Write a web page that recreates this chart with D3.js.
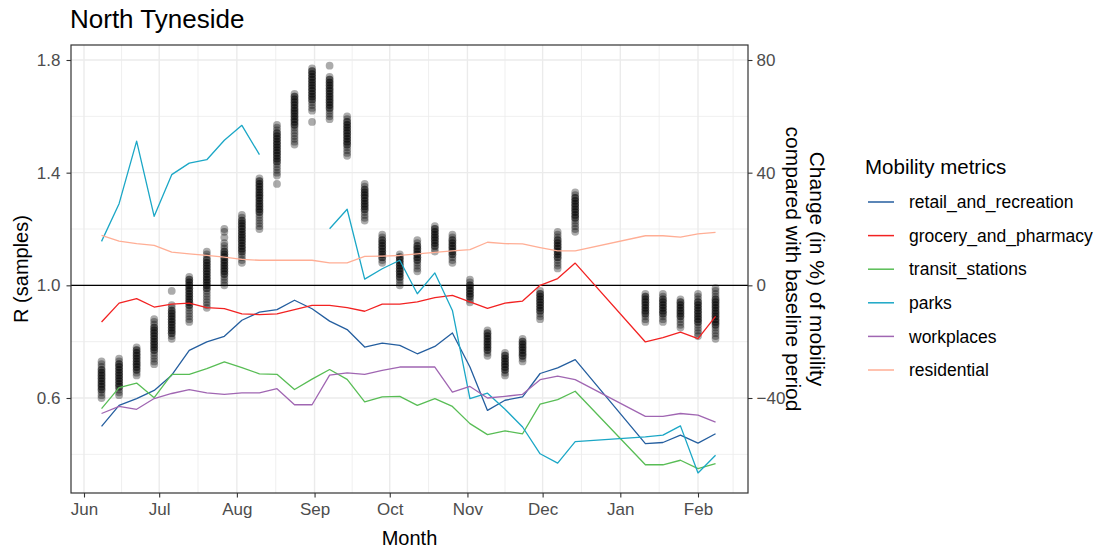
<!DOCTYPE html>
<html><head><meta charset="utf-8">
<script src="https://cdn.jsdelivr.net/npm/d3@7"></script>
<style>
body{margin:0;background:#fff;}
svg text{font-family:"Liberation Sans",Arial,sans-serif;}
</style></head><body>
<svg id="chart" width="1103" height="551"></svg>
<script>
// ---------- data ----------
const weekDates = ["2020-06-08","2020-06-15","2020-06-22","2020-06-29","2020-07-06","2020-07-13","2020-07-20","2020-07-27",
  "2020-08-03","2020-08-10","2020-08-17","2020-08-24","2020-08-31","2020-09-07","2020-09-14","2020-09-21","2020-09-28",
  "2020-10-05","2020-10-12","2020-10-19","2020-10-26","2020-11-02","2020-11-09","2020-11-16","2020-11-23","2020-11-30",
  "2020-12-07","2020-12-14","2021-01-11","2021-01-18","2021-01-25","2021-02-01","2021-02-08"];

const rSamples = [
  [0.73,0.72,0.71,0.70,0.70,0.69,0.69,0.68,0.68,0.67,0.67,0.66,0.66,0.65,0.65,0.64,0.64,0.63,0.63,0.62,0.61,0.60],
  [0.74,0.73,0.72,0.72,0.71,0.71,0.70,0.70,0.69,0.69,0.68,0.68,0.67,0.67,0.66,0.66,0.65,0.65,0.64,0.64,0.63,0.62,0.61],
  [0.78,0.77,0.77,0.76,0.76,0.75,0.75,0.74,0.74,0.73,0.73,0.72,0.72,0.71,0.71,0.70,0.70,0.69,0.68],
  [0.88,0.87,0.86,0.85,0.85,0.84,0.84,0.83,0.83,0.82,0.82,0.81,0.81,0.80,0.80,0.79,0.79,0.78,0.78,0.77,0.77,0.76,0.75,0.74,0.73,0.72],
  [0.98,0.93,0.92,0.91,0.91,0.90,0.90,0.89,0.89,0.88,0.88,0.87,0.87,0.86,0.86,0.85,0.85,0.84,0.84,0.83,0.83,0.82,0.81],
  [1.03,1.02,1.02,1.01,1.01,1.00,1.00,0.99,0.99,0.98,0.98,0.97,0.97,0.96,0.96,0.95,0.95,0.94,0.94,0.93,0.93,0.92,0.91,0.90,0.89,0.88,0.87],
  [1.12,1.11,1.10,1.09,1.09,1.08,1.08,1.07,1.07,1.06,1.06,1.05,1.05,1.04,1.04,1.03,1.03,1.02,1.02,1.01,1.01,1.00,1.00,0.99,0.99,0.98,0.97,0.96,0.95,0.94,0.93,0.92],
  [1.20,1.19,1.17,1.15,1.14,1.13,1.12,1.12,1.11,1.11,1.10,1.10,1.09,1.09,1.08,1.08,1.07,1.07,1.06,1.06,1.05,1.05,1.04,1.04,1.03,1.02,1.01,1.00],
  [1.25,1.24,1.23,1.23,1.22,1.22,1.21,1.21,1.20,1.20,1.19,1.19,1.18,1.18,1.17,1.17,1.16,1.16,1.15,1.15,1.14,1.14,1.13,1.13,1.12,1.12,1.11,1.10,1.09,1.08],
  [1.38,1.37,1.37,1.36,1.36,1.35,1.35,1.34,1.34,1.33,1.33,1.32,1.32,1.31,1.31,1.30,1.30,1.29,1.29,1.28,1.28,1.27,1.27,1.26,1.26,1.25,1.24,1.23,1.22,1.21,1.20],
  [1.57,1.56,1.55,1.54,1.54,1.53,1.53,1.52,1.52,1.51,1.51,1.50,1.50,1.49,1.49,1.48,1.48,1.47,1.47,1.46,1.46,1.45,1.45,1.44,1.44,1.43,1.42,1.41,1.40,1.39,1.36],
  [1.68,1.67,1.67,1.66,1.66,1.65,1.65,1.64,1.64,1.63,1.63,1.62,1.62,1.61,1.61,1.60,1.60,1.59,1.59,1.58,1.58,1.57,1.57,1.56,1.55,1.54,1.53,1.52,1.51,1.50],
  [1.77,1.76,1.76,1.75,1.75,1.74,1.74,1.73,1.73,1.72,1.72,1.71,1.71,1.70,1.70,1.69,1.69,1.68,1.68,1.67,1.67,1.66,1.66,1.65,1.64,1.63,1.62,1.58],
  [1.78,1.74,1.73,1.73,1.72,1.72,1.71,1.71,1.70,1.70,1.69,1.69,1.68,1.68,1.67,1.67,1.66,1.66,1.65,1.65,1.64,1.64,1.63,1.63,1.62,1.61,1.60,1.59],
  [1.60,1.59,1.58,1.58,1.57,1.57,1.56,1.56,1.55,1.55,1.54,1.54,1.53,1.53,1.52,1.52,1.51,1.51,1.50,1.50,1.49,1.48,1.47,1.46],
  [1.36,1.35,1.34,1.34,1.33,1.33,1.32,1.32,1.31,1.31,1.30,1.30,1.29,1.29,1.28,1.28,1.27,1.27,1.26,1.25,1.24,1.23],
  [1.18,1.17,1.16,1.16,1.15,1.15,1.14,1.14,1.13,1.13,1.12,1.12,1.11,1.11,1.10,1.10,1.09,1.08],
  [1.11,1.10,1.10,1.09,1.09,1.08,1.08,1.07,1.07,1.06,1.06,1.05,1.05,1.04,1.04,1.03,1.03,1.02,1.01,1.00],
  [1.16,1.15,1.14,1.14,1.13,1.13,1.12,1.12,1.11,1.11,1.10,1.10,1.09,1.09,1.08,1.07,1.06,1.05],
  [1.21,1.20,1.20,1.19,1.19,1.18,1.18,1.17,1.17,1.16,1.16,1.15,1.15,1.14,1.14,1.13,1.12],
  [1.18,1.17,1.16,1.16,1.15,1.15,1.14,1.14,1.13,1.13,1.12,1.12,1.11,1.11,1.10,1.09,1.08],
  [1.02,1.01,1.00,1.00,0.99,0.99,0.98,0.98,0.97,0.97,0.96,0.96,0.95,0.94],
  [0.84,0.83,0.83,0.82,0.82,0.81,0.81,0.80,0.80,0.79,0.79,0.78,0.78,0.77,0.77,0.76,0.75],
  [0.76,0.75,0.75,0.74,0.74,0.73,0.73,0.72,0.72,0.71,0.71,0.70,0.70,0.69,0.68],
  [0.81,0.80,0.80,0.79,0.79,0.78,0.78,0.77,0.77,0.76,0.76,0.75,0.75,0.74,0.73],
  [0.98,0.97,0.97,0.96,0.96,0.95,0.95,0.94,0.94,0.93,0.93,0.92,0.92,0.91,0.91,0.90,0.89,0.88],
  [1.19,1.18,1.17,1.16,1.16,1.15,1.15,1.14,1.14,1.13,1.13,1.12,1.12,1.11,1.11,1.10,1.10,1.09,1.08,1.07,1.06],
  [1.33,1.32,1.31,1.31,1.30,1.30,1.29,1.29,1.28,1.28,1.27,1.27,1.26,1.26,1.25,1.25,1.24,1.24,1.23,1.22,1.21,1.20,1.19],
  [0.97,0.96,0.96,0.95,0.95,0.94,0.94,0.93,0.93,0.92,0.92,0.91,0.91,0.90,0.90,0.89,0.88,0.87],
  [0.97,0.96,0.95,0.95,0.94,0.94,0.93,0.93,0.92,0.92,0.91,0.91,0.90,0.90,0.89,0.88,0.87],
  [0.95,0.94,0.94,0.93,0.93,0.92,0.92,0.91,0.91,0.90,0.90,0.89,0.89,0.88,0.87,0.86,0.85],
  [0.97,0.96,0.95,0.94,0.94,0.93,0.93,0.92,0.92,0.91,0.91,0.90,0.90,0.89,0.89,0.88,0.88,0.87,0.87,0.86,0.85,0.84,0.83,0.82],
  [0.99,0.98,0.97,0.96,0.95,0.95,0.94,0.94,0.93,0.93,0.92,0.92,0.91,0.91,0.90,0.90,0.89,0.89,0.88,0.88,0.87,0.87,0.86,0.86,0.85,0.84,0.83,0.82,0.81]
];

const retailAndRecreation = [-50.1,-42.6,-40.2,-37.3,-31.9,-23.1,-20.1,-18.1,-12.4,-9.5,-8.6,-5.3,-8.3,-12.7,-15.7,-21.9,-20.5,-21.3,-24.3,-21.7,-16.9,-29.0,-44.4,-40.8,-39.6,-31.3,-29.3,-26.4,-56.2,-55.8,-53.2,-56.0,-52.7];
const groceryAndPharmacy = [-13.0,-6.3,-4.7,-7.7,-6.7,-6.3,-7.9,-8.3,-10.1,-10.4,-10.1,-8.6,-7.1,-7.1,-7.9,-9.2,-6.7,-6.7,-5.9,-4.4,-3.6,-5.9,-8.2,-6.3,-5.6,0.0,2.4,7.9,-20.1,-18.6,-16.6,-18.9,-11.0];
const transitStations = [-43.8,-36.3,-34.7,-39.9,-31.6,-31.6,-29.6,-27.2,-29.2,-31.4,-31.6,-37.0,-33.3,-29.9,-33.4,-41.4,-39.6,-39.4,-42.6,-40.2,-43.0,-49.1,-53.0,-51.7,-52.7,-42.2,-40.6,-37.6,-63.7,-63.7,-62.1,-65.1,-63.3];
const parks = [15.6,29.0,51.2,24.5,39.3,43.4,44.6,51.5,56.8,46.4,null,null,null,20.1,27.0,2.2,5.9,8.9,-3.0,4.4,-8.9,-40.2,-38.3,-44.0,-50.3,-59.8,-63.1,-55.5,-53.8,-53.2,-49.9,-66.6,-60.3];
const workplaces = [-45.5,-43.0,-44.0,-40.2,-38.4,-37.0,-38.2,-38.7,-38.2,-38.2,-36.7,-42.4,-42.4,-31.9,-31.1,-31.6,-30.2,-29.0,-29.0,-29.0,-37.9,-35.9,-40.0,-39.4,-38.7,-33.5,-32.2,-33.5,-46.5,-46.5,-45.5,-46.1,-48.6];
const residential = [17.7,15.7,14.8,14.2,11.8,11.2,10.6,10.0,9.2,8.9,8.9,8.9,8.9,8.0,8.0,10.3,10.4,10.6,11.2,11.7,12.2,12.7,15.3,14.8,14.7,13.4,12.2,12.2,17.6,17.6,17.1,18.3,18.8];

const metricNames = ["retail_and_recreation","grocery_and_pharmacy","transit_stations","parks","workplaces","residential"];
const metricValues = [retailAndRecreation, groceryAndPharmacy, transitStations, parks, workplaces, residential];
const metricColors = ["#245e9f","#f22222","#58bd55","#1ba7c6","#a066b2","#ffae95"];

const monthTicks = ["2020-06-01","2020-07-01","2020-08-01","2020-09-01","2020-10-01","2020-11-01","2020-12-01","2021-01-01","2021-02-01"];
const monthLabels = ["Jun","Jul","Aug","Sep","Oct","Nov","Dec","Jan","Feb"];
const leftTicks = [0.6, 1.0, 1.4, 1.8];
const leftMinor = [0.4, 0.8, 1.2, 1.6];
const rightTicks = [-40, 0, 40, 80];

// ---------- layout ----------
const svg = d3.select("#chart");
const P = {l:71, t:45, r:748, b:493};
const parse = d3.utcParse("%Y-%m-%d");
const x = d3.scaleUtc().domain([parse("2020-06-01"), parse("2021-02-01")]).range([84, 698]);
const yL = d3.scaleLinear().domain([0.6, 1.8]).range([398, 60]);
const yR = d3.scaleLinear().domain([-40, 80]).range([398, 60]);
const gridCol = "#ebebeb";

svg.append("rect").attr("x",0).attr("y",0).attr("width",1103).attr("height",551).attr("fill","#fff");

svg.append("defs").append("clipPath").attr("id","clip")
  .append("rect").attr("x",P.l).attr("y",P.t).attr("width",P.r-P.l).attr("height",P.b-P.t);

const grid = svg.append("g").attr("clip-path","url(#clip)");
const majorDates = monthTicks.map(parse);
const minorDates = majorDates.map(d => new Date((+d + +d3.utcMonth.offset(d,1))/2));
grid.selectAll(".vminor").data(minorDates).join("line")
  .attr("x1",d=>x(d)).attr("x2",d=>x(d)).attr("y1",P.t).attr("y2",P.b)
  .attr("stroke",gridCol).attr("stroke-width",0.8);
grid.selectAll(".hminor").data(leftMinor).join("line")
  .attr("x1",P.l).attr("x2",P.r).attr("y1",d=>yL(d)).attr("y2",d=>yL(d))
  .attr("stroke",gridCol).attr("stroke-width",0.8);
grid.selectAll(".vmajor").data(majorDates).join("line")
  .attr("x1",d=>x(d)).attr("x2",d=>x(d)).attr("y1",P.t).attr("y2",P.b)
  .attr("stroke",gridCol).attr("stroke-width",1.4);
grid.selectAll(".hmajor").data(leftTicks).join("line")
  .attr("x1",P.l).attr("x2",P.r).attr("y1",d=>yL(d)).attr("y2",d=>yL(d))
  .attr("stroke",gridCol).attr("stroke-width",1.4);

const plot = svg.append("g").attr("clip-path","url(#clip)");

// R samples
const pts = [];
rSamples.forEach((arr,i) => arr.forEach(v => pts.push({d: parse(weekDates[i]), v})));
plot.append("g").selectAll("circle").data(pts).join("circle")
  .attr("cx",d=>x(d.d)).attr("cy",d=>yL(d.v)).attr("r",3.9)
  .attr("fill","#000").attr("fill-opacity",0.33);

// reference line
plot.append("line").attr("x1",P.l).attr("x2",P.r).attr("y1",yL(1)).attr("y2",yL(1))
  .attr("stroke","#000").attr("stroke-width",1.3);

// mobility lines
const line = d3.line().defined(d => d.v !== null).x(d => x(d.d)).y(d => yR(d.v));
metricValues.forEach((vals,k) => {
  const data = vals.map((v,i) => ({d: parse(weekDates[i]), v}));
  plot.append("path").datum(data).attr("d",line)
    .attr("fill","none").attr("stroke",metricColors[k]).attr("stroke-width",1.3)
    .attr("stroke-linejoin","round");
});

// panel border
svg.append("rect").attr("x",P.l).attr("y",P.t).attr("width",P.r-P.l).attr("height",P.b-P.t)
  .attr("fill","none").attr("stroke","#333").attr("stroke-width",1.2);

// axes
function styleAxis(g){
  g.select(".domain").remove();
  g.selectAll(".tick line").attr("stroke","#333").attr("stroke-width",1.1);
  g.selectAll(".tick text").attr("fill","#4d4d4d").style("font-size","17px")
    .style("font-family","'Liberation Sans',Arial,sans-serif");
}
svg.append("g").attr("transform",`translate(${P.l},0)`)
  .call(d3.axisLeft(yL).tickValues(leftTicks).tickFormat(d3.format(".1f")).tickSize(4.5).tickPadding(6))
  .call(styleAxis);
svg.append("g").attr("transform",`translate(${P.r},0)`)
  .call(d3.axisRight(yR).tickValues(rightTicks).tickFormat(d3.format("d")).tickSize(4.5).tickPadding(4))
  .call(styleAxis);
svg.append("g").attr("transform",`translate(0,${P.b})`)
  .call(d3.axisBottom(x).tickValues(majorDates).tickFormat((d,i)=>monthLabels[i]).tickSize(4.5).tickPadding(5))
  .call(styleAxis);

// titles
svg.append("text").attr("x",P.l-1).attr("y",28).text("North Tyneside")
  .style("font-size","26px").attr("fill","#000");
svg.append("text").attr("x",(P.l+P.r)/2).attr("y",545).attr("text-anchor","middle")
  .text("Month").style("font-size","20px").attr("fill","#000");
svg.append("text").attr("transform",`translate(28,${(P.t+P.b)/2}) rotate(-90)`).attr("text-anchor","middle")
  .text("R (samples)").style("font-size","20px").attr("fill","#000");
const rt = svg.append("g").attr("transform",`translate(0,${(P.t+P.b)/2})`);
rt.append("text").attr("transform","translate(810,0) rotate(90)").attr("text-anchor","middle")
  .text("Change (in %) of mobility").style("font-size","21px").attr("fill","#000");
rt.append("text").attr("transform","translate(786,0) rotate(90)").attr("text-anchor","middle")
  .text("compared with baseline period").style("font-size","21px").attr("fill","#000");

// legend
const lg = svg.append("g");
lg.append("text").attr("x",865).attr("y",174).text("Mobility metrics").style("font-size","20.5px").attr("fill","#000");
metricNames.forEach((n,k) => {
  const yy = 202 + k*33.6;
  lg.append("line").attr("x1",868).attr("x2",894).attr("y1",yy).attr("y2",yy)
    .attr("stroke",metricColors[k]).attr("stroke-width",1.5);
  lg.append("text").attr("x",909).attr("y",yy).attr("dy","0.35em").text(n)
    .style("font-size","17.5px").attr("fill","#000");
});
</script>
</body></html>
